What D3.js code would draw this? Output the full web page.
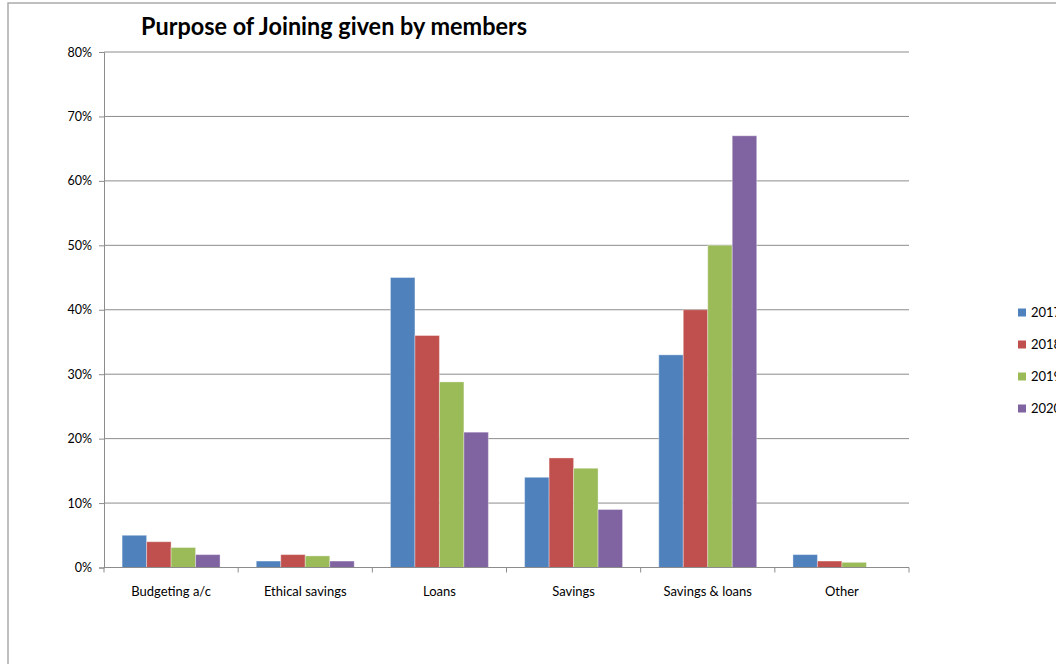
<!DOCTYPE html>
<html>
<head>
<meta charset="utf-8">
<script src="https://cdn.jsdelivr.net/npm/d3@7"></script>
<style>
  body { margin: 0; background: #fff; }
  svg { display: block; }
</style>
</head>
<body>
<svg id="chart"></svg>
<script>
const width = 1056, height = 664

// data
const categories = ["Budgeting a/c", "Ethical savings", "Loans", "Savings", "Savings & loans", "Other"]
const years = ["2017", "2018", "2019", "2020"]
const v2017 = [0.05, 0.01, 0.45, 0.14, 0.33, 0.02]
const v2018 = [0.04, 0.02, 0.36, 0.17, 0.40, 0.01]
const v2019 = [0.031, 0.018, 0.288, 0.154, 0.50, 0.008]
const v2020 = [0.02, 0.01, 0.21, 0.09, 0.67, 0]
const yTicks = [0, 0.1, 0.2, 0.3, 0.4, 0.5, 0.6, 0.7, 0.8]
const colors = ["#4F81BD", "#C0504D", "#9BBB59", "#8064A2"]

const series = [v2017, v2018, v2019, v2020]
const font = "Lato, 'Open Sans', sans-serif"

const svg = d3.select("#chart")
    .attr("width", width)
    .attr("height", height)

// outer chart frame (runs off the right and bottom)
svg.append("rect")
    .attr("x", 8).attr("y", 3)
    .attr("width", 1100).attr("height", 700)
    .attr("fill", "none")
    .attr("stroke", "#aaa")
    .attr("stroke-width", 1.5)

const plot = { left: 104, right: 909, top: 52, bottom: 567.5 }

const x0 = d3.scaleBand()
    .domain(categories)
    .range([plot.left, plot.right])
    .padding(0)

const x1 = d3.scaleBand()
    .domain(years)
    .range([0, x0.bandwidth()])
    .paddingInner(0)
    .paddingOuter(0.74)

const y = d3.scaleLinear()
    .domain([0, 0.8])
    .range([plot.bottom, plot.top])

// gridlines
svg.append("g")
    .selectAll("line")
    .data(yTicks.slice(1))
    .enter()
    .append("line")
    .attr("x1", plot.left)
    .attr("x2", plot.right)
    .attr("y1", d => y(d))
    .attr("y2", d => y(d))
    .attr("stroke", "#8c8c8c")
    .attr("stroke-width", 1)

// bars
const groups = svg.append("g")
    .selectAll("g")
    .data(categories)
    .enter()
    .append("g")
    .attr("transform", d => `translate(${x0(d)},0)`)

groups.selectAll("rect")
    .data((c, i) => years.map((yr, j) => ({ yr, j, v: series[j][i] })))
    .enter()
    .filter(d => d.v > 0)
    .append("rect")
    .attr("x", d => x1(d.yr))
    .attr("y", d => y(d.v))
    .attr("width", x1.bandwidth())
    .attr("height", d => y(0) - y(d.v))
    .attr("fill", d => colors[d.j])
    .attr("stroke", "#fff")
    .attr("stroke-opacity", 0.35)
    .attr("stroke-width", 1)

// y axis
const yAxis = svg.append("g")
    .attr("transform", `translate(${plot.left},0)`)
    .call(d3.axisLeft(y).tickValues(yTicks).tickFormat(d3.format(".0%")).tickSize(5).tickPadding(7))
yAxis.select(".domain").attr("stroke", "#8c8c8c")
yAxis.selectAll(".tick line").attr("stroke", "#8c8c8c")
yAxis.selectAll("text")
    .attr("fill", "#000")
    .style("font-family", font)
    .style("font-size", "12.5px")

// x axis with ticks on category boundaries
svg.append("line")
    .attr("x1", plot.left).attr("x2", plot.right)
    .attr("y1", y(0)).attr("y2", y(0))
    .attr("stroke", "#8c8c8c")

const bounds = categories.map(c => x0(c)).concat([plot.right])
svg.append("g")
    .selectAll("line")
    .data(bounds)
    .enter()
    .append("line")
    .attr("x1", d => d).attr("x2", d => d)
    .attr("y1", y(0)).attr("y2", y(0) + 5)
    .attr("stroke", "#8c8c8c")

svg.append("g")
    .selectAll("text")
    .data(categories)
    .enter()
    .append("text")
    .attr("x", d => x0(d) + x0.bandwidth() / 2)
    .attr("y", 596)
    .attr("text-anchor", "middle")
    .style("font-family", font)
    .style("font-size", "13px")
    .text(d => d)

// title
svg.append("text")
    .attr("x", 141)
    .attr("y", 35)
    .attr("textLength", 386)
    .attr("lengthAdjust", "spacingAndGlyphs")
    .style("font-family", font)
    .style("font-size", "25px")
    .style("font-weight", "bold")
    .text("Purpose of Joining given by members")

// legend (cut off at the right edge, as in the original)
const legend = svg.append("g")
    .selectAll("g")
    .data(years)
    .enter()
    .append("g")
    .attr("transform", (d, i) => `translate(1018,${312.5 + i * 32})`)

legend.append("rect")
    .attr("x", 0).attr("y", -4)
    .attr("width", 8).attr("height", 8)
    .attr("fill", (d, i) => colors[i])

legend.append("text")
    .attr("x", 13)
    .attr("y", 4.5)
    .style("font-family", font)
    .style("font-size", "13px")
    .text(d => d)
</script>
</body>
</html>
